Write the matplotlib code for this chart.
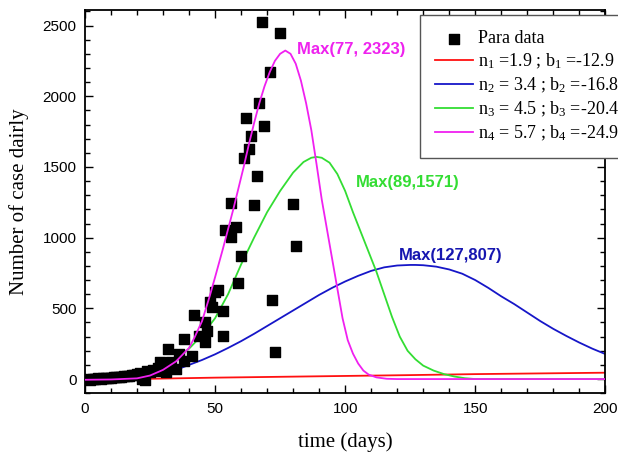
import matplotlib
matplotlib.use("Agg")
import matplotlib.pyplot as plt
from matplotlib.ticker import MultipleLocator

plt.rcParams["mathtext.fontset"] = "custom"
plt.rcParams["mathtext.rm"] = "Liberation Serif"
plt.rcParams["mathtext.default"] = "regular"

data_days = [1, 2, 3, 4, 5, 6, 7, 8, 9, 10, 11, 12, 13, 14, 15, 16, 17, 18, 19, 20,
             21, 22, 23, 24, 25, 26, 27, 28, 29, 31, 32, 33, 35, 36, 38, 38, 41, 42,
             44, 46, 46, 47, 48, 49, 50, 51, 53, 53, 54, 56, 56, 58, 59, 60, 61, 62,
             63, 64, 65, 66, 67, 68, 69, 71, 72, 73, 75, 80, 81]
data_cases = [0, -5, 2, 0, 5, 3, 8, 5, 10, 8, 12, 15, 12, 18, 20, 22, 25, 28, 30, 35,
              40, 0, -10, 55, 50, 65, 60, 80, 118, 47, 213, 118, 71, 177, 130, 284,
              165, 454, 307, 402, 260, 343, 544, 508, 615, 633, 482, 307, 1052, 1005,
              1248, 1076, 681, 870, 1560, 1844, 1624, 1716, 1234, 1433, 1954, 2525,
              1792, 2168, 562, 189, 2447, 1241, 941]

# curvas do modelo
red_x = [0, 25, 50, 75, 100, 125, 150, 175, 200]
red_y = [-5, 2, 10, 16, 22, 28, 35, 40, 45]

blue_x = [0, 10, 20, 25, 30, 35, 40, 45, 50, 55, 60, 65, 70, 75, 80, 85, 90, 95, 100,
          105, 110, 115, 120, 125, 127, 130, 135, 140, 145, 150, 155, 160, 165, 170,
          175, 180, 185, 190, 195, 200]
blue_y = [-5, -3, 5, 18, 38, 65, 100, 135, 175, 220, 268, 320, 375, 430, 485, 540,
          595, 645, 690, 730, 765, 790, 803, 807, 807, 805, 795, 775, 745, 700, 645,
          585, 530, 470, 410, 355, 305, 258, 215, 177]

green_x = [0, 10, 20, 25, 30, 35, 40, 45, 50, 55, 60, 65, 70, 75, 80, 84, 87, 89, 91,
           94, 97, 100, 103, 106, 109, 112, 115, 118, 121, 124, 127, 130, 134, 138,
           142, 146, 150, 200]
green_y = [-5, -3, 10, 35, 75, 140, 215, 310, 430, 600, 810, 1000, 1180, 1330, 1460,
           1535, 1565, 1571, 1565, 1530, 1450, 1330, 1180, 1040, 900, 760, 600, 440,
           300, 200, 140, 95, 60, 35, 18, 6, 0, 0]

magenta_x = [0, 10, 20, 25, 30, 35, 40, 42, 45, 48, 50, 53, 55, 57, 59, 61, 63, 65,
             67, 69, 71, 73, 75, 77, 79, 81, 83, 85, 87, 89, 91, 93, 95, 97, 99, 101,
             103, 105, 107, 109, 112, 116, 120, 200]
magenta_y = [-5, -3, 5, 25, 65, 125, 220, 290, 410, 590, 720, 920, 1060, 1200, 1350,
             1500, 1660, 1810, 1950, 2070, 2170, 2250, 2300, 2323, 2300, 2230, 2110,
             1950, 1760, 1520, 1270, 1060, 850, 640, 430, 275, 180, 110, 60, 32, 12,
             2, 0, 0]

labels = ["Para data",
          "n$_1$ =1.9 ; b$_1$ =-12.9",
          "n$_2$ = 3.4 ; b$_2$ =-16.8",
          "n$_3$ = 4.5 ; b$_3$ =-20.4",
          "n$_4$ = 5.7 ; b$_4$ =-24.9"]

fig = plt.figure(figsize=(6.18, 4.53), dpi=100)
ax = fig.add_axes([0.1375, 0.132, 0.842, 0.846])

ax.scatter(data_days, data_cases, marker="s", s=42, color="black", label=labels[0], zorder=3)
ax.plot(red_x, red_y, color="#ff1010", lw=1.3, label=labels[1])
ax.plot(blue_x, blue_y, color="#1616c8", lw=1.3, label=labels[2])
ax.plot(green_x, green_y, color="#33dd33", lw=1.3, label=labels[3])
ax.plot(magenta_x, magenta_y, color="#f020f0", lw=1.3, label=labels[4], zorder=4)

ax.text(81.5, 2333, "Max(77, 2323)", color="#ee22ee", fontsize=12, fontweight="bold",
        family="Liberation Sans", va="center")
ax.text(104, 1389, "Max(89,1571)", color="#33dd33", fontsize=12, fontweight="bold",
        family="Liberation Sans", va="center")
ax.text(120.5, 875, "Max(127,807)", color="#1616b0", fontsize=12, fontweight="bold",
        family="Liberation Sans", va="center")

ax.set_xlim(0, 200)
ax.set_ylim(-100, 2610)
ax.xaxis.set_major_locator(MultipleLocator(50))
ax.xaxis.set_minor_locator(MultipleLocator(10))
ax.yaxis.set_major_locator(MultipleLocator(500))
ax.yaxis.set_minor_locator(MultipleLocator(100))
ax.tick_params(which="both", direction="in", top=True, right=True, width=1)
ax.tick_params(which="major", length=6, labelsize=11, pad=6)
ax.tick_params(which="minor", length=3.5)
for lab in ax.get_xticklabels() + ax.get_yticklabels():
    lab.set_family("Liberation Sans")
for sp in ax.spines.values():
    sp.set_linewidth(1.3)

ax.set_xlabel("time (days)", family="Liberation Serif", fontsize=15, labelpad=12)
ax.set_ylabel("Number of case dairly", family="Liberation Serif", fontsize=15, labelpad=10)

leg = ax.legend(loc="upper left", bbox_to_anchor=(0.644, 0.987), borderaxespad=0,
                prop={"family": "Liberation Serif", "size": 13}, fancybox=False,
                edgecolor="#555555", framealpha=1, handlelength=2.1,
                handletextpad=0.25, labelspacing=0.25, borderpad=0.85)
leg.get_frame().set_linewidth(1)

fig.savefig("out.png", dpi=100)
